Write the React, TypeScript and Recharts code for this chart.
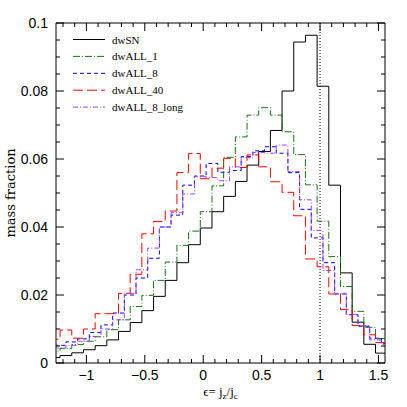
import React from "react";
import {
  LineChart,
  Line,
  XAxis,
  YAxis,
  Legend,
  ReferenceLine,
  ReferenceArea,
} from "recharts";

// bin centres: dwSN / dwALL_1 / dwALL_40 share one grid, the dwALL_8 runs are offset by half a bin
const binsA = [
  -1.275, -1.175, -1.075, -0.975, -0.875, -0.775, -0.675, -0.575, -0.475, -0.375,
  -0.275, -0.175, -0.075, 0.025, 0.125, 0.225, 0.325, 0.425, 0.525, 0.625,
  0.725, 0.825, 0.925, 1.025, 1.125, 1.225, 1.325, 1.425, 1.525,
];
const binsB = [
  -1.225, -1.125, -1.025, -0.925, -0.825, -0.725, -0.625, -0.525, -0.425, -0.325,
  -0.225, -0.125, -0.025, 0.075, 0.175, 0.275, 0.375, 0.475, 0.575, 0.675,
  0.775, 0.875, 0.975, 1.075, 1.175, 1.275, 1.375, 1.475, 1.575,
];

const dwSN = [
  0.0016, 0.0022, 0.003, 0.0039, 0.0051, 0.0068, 0.0093, 0.0119, 0.0154, 0.0196,
  0.0243, 0.0295, 0.0348, 0.0397, 0.0445, 0.049, 0.0534, 0.0582, 0.0622, 0.0684,
  0.08, 0.0944, 0.0964, 0.0814, 0.0523, 0.0265, 0.012, 0.0055, 0.0029,
];
const dwALL1 = [
  0.0035, 0.0043, 0.0054, 0.0064, 0.0077, 0.0098, 0.0127, 0.0166, 0.0199, 0.0243,
  0.0297, 0.0346, 0.0388, 0.0445, 0.0521, 0.0605, 0.0665, 0.0729, 0.0751, 0.0729,
  0.068, 0.0613, 0.0524, 0.0417, 0.0313, 0.0225, 0.0152, 0.0105, 0.0072,
];
const dwALL40 = [
  0.007, 0.0097, 0.0073, 0.01, 0.0145, 0.0145, 0.0205, 0.0261, 0.038, 0.0416,
  0.0447, 0.056, 0.0616, 0.0542, 0.0573, 0.0602, 0.0575, 0.0612, 0.0577, 0.0533,
  0.0502, 0.0433, 0.0306, 0.0283, 0.0203, 0.0157, 0.011, 0.0083, 0.006,
];
const dwALL8 = [
  0.0052, 0.0062, 0.0071, 0.009, 0.0112, 0.0147, 0.02, 0.025, 0.0308, 0.04,
  0.0435, 0.0523, 0.055, 0.0587, 0.0561, 0.0566, 0.0607, 0.0624, 0.0636, 0.0617,
  0.056, 0.0452, 0.0368, 0.0295, 0.0203, 0.0142, 0.0108, 0.0073, 0.0057,
];
const dwALL8long = [
  0.0044, 0.0052, 0.0064, 0.0078, 0.01, 0.0127, 0.0205, 0.0274, 0.0338, 0.04,
  0.0442, 0.0497, 0.0548, 0.0545, 0.0536, 0.0577, 0.0604, 0.0619, 0.0617, 0.0641,
  0.0563, 0.048, 0.039, 0.0272, 0.0205, 0.0143, 0.011, 0.0068, 0.0055,
];

const xMajor = [-1, -0.5, 0, 0.5, 1, 1.5];
const xLabels = ["\u22121", "\u22120.5", "0", "0.5", "1", "1.5"];
const xTicks = [
  -1.2, -1.1, -1, -0.9, -0.8, -0.7, -0.6, -0.5, -0.4, -0.3, -0.2, -0.1, 0, 0.1,
  0.2, 0.3, 0.4, 0.5, 0.6, 0.7, 0.8, 0.9, 1, 1.1, 1.2, 1.3, 1.4, 1.5,
];
const yMajor = [0, 0.02, 0.04, 0.06, 0.08, 0.1];
const yLabels = ["0", "0.02", "0.04", "0.06", "0.08", "0.1"];
const yTicks = [
  0, 0.005, 0.01, 0.015, 0.02, 0.025, 0.03, 0.035, 0.04, 0.045, 0.05, 0.055,
  0.06, 0.065, 0.07, 0.075, 0.08, 0.085, 0.09, 0.095, 0.1,
];

const series = [
  { name: "dwSN", bins: binsA, values: dwSN, color: "#000000", dash: undefined },
  { name: "dwALL_1", bins: binsA, values: dwALL1, color: "#137313", dash: "7 2 1 2" },
  { name: "dwALL_8", bins: binsB, values: dwALL8, color: "#0000ff", dash: "4 3" },
  { name: "dwALL_40", bins: binsA, values: dwALL40, color: "#ff0000", dash: "10 4" },
  { name: "dwALL_8_long", bins: binsB, values: dwALL8long, color: "#a040f0", dash: "5 2 1 2" },
];

const TOP = 23;
const BOTTOM = 363;
const LEFT = 56;
const RIGHT = 385;
const TICK_FONT = "'Liberation Sans', Arial, sans-serif";
const SERIF = "'Liberation Serif', 'Times New Roman', serif";

// histogram -> step points on the bin edges
const toSteps = (bins: number[], values: number[]) => {
  const pts = bins.map((c, i) => ({ x: c - 0.05, y: values[i] }));
  pts.push({ x: bins[bins.length - 1] + 0.05, y: values[values.length - 1] });
  return pts;
};

const findMajor = (list: number[], v: number) =>
  list.findIndex((m) => Math.abs(m - v) < 1e-6);

const XTick = (props: any) => {
  const { x, payload } = props;
  const idx = findMajor(xMajor, payload.value);
  const len = idx >= 0 ? 8 : 4;
  return (
    <g>
      <line x1={x} x2={x} y1={BOTTOM} y2={BOTTOM - len} stroke="#000" />
      <line x1={x} x2={x} y1={TOP} y2={TOP + len} stroke="#000" />
      {idx >= 0 && (
        <text x={x} y={380} textAnchor="middle" fontFamily={TICK_FONT} fontSize={14} fill="#000">
          {xLabels[idx]}
        </text>
      )}
    </g>
  );
};

const YTick = (props: any) => {
  const { y, payload } = props;
  const idx = findMajor(yMajor, payload.value);
  const len = idx >= 0 ? 8 : 4;
  return (
    <g>
      <line x1={LEFT} x2={LEFT + len} y1={y} y2={y} stroke="#000" />
      <line x1={RIGHT} x2={RIGHT - len} y1={y} y2={y} stroke="#000" />
      {idx >= 0 && (
        <text x={48} y={y + 5} textAnchor="end" fontFamily={TICK_FONT} fontSize={14} fill="#000">
          {yLabels[idx]}
        </text>
      )}
    </g>
  );
};

const XTitle = () => (
  <text x={220.5} y={396} textAnchor="middle" fontFamily={SERIF} fontSize={13} fill="#000">
    {"\u03f5= j"}
    <tspan dy={3} fontSize={9}>z</tspan>
    <tspan dy={-3}>/j</tspan>
    <tspan dy={3} fontSize={9}>c</tspan>
  </text>
);

const YTitle = () => (
  <text
    x={15}
    y={193}
    transform="rotate(-90, 15, 193)"
    textAnchor="middle"
    fontFamily="'DejaVu Serif', serif"
    fontSize={13}
    fill="#000"
  >
    mass fraction
  </text>
);

const LegendBox = () => (
  <svg width={140} height={90}>
    {series.map((s, i) => {
      const y = 9.5 + i * 16.9;
      return (
        <g key={s.name}>
          <line x1={0} x2={32} y1={y} y2={y} stroke={s.color} strokeDasharray={s.dash} />
          <text x={39} y={y + 4} fontFamily={SERIF} fontSize={11} fill="#000">
            {s.name}
          </text>
        </g>
      );
    })}
  </svg>
);

const App = () => {
  return (
    <div style={{ position: "absolute", left: 0, top: 0, background: "#fff" }}>
      <LineChart width={407} height={407} margin={{ top: 23, right: 22, bottom: 14, left: 6 }}>
        <XAxis
          type="number"
          dataKey="x"
          domain={[-1.26, 1.556]}
          allowDataOverflow
          ticks={xTicks}
          interval={0}
          tick={<XTick />}
          tickLine={false}
          axisLine={false}
          height={30}
          label={<XTitle />}
        />
        <YAxis
          type="number"
          domain={[0, 0.1]}
          allowDataOverflow
          ticks={yTicks}
          interval={0}
          tick={<YTick />}
          tickLine={false}
          axisLine={false}
          width={50}
          label={<YTitle />}
        />
        <ReferenceArea x1={-1.26} x2={1.556} y1={0} y2={0.1} fill="none" stroke="#000" strokeWidth={1} />
        <ReferenceLine x={1} stroke="#000" strokeDasharray="1 2" />
        {series.map((s) => (
          <Line
            key={s.name}
            name={s.name}
            data={toSteps(s.bins, s.values)}
            dataKey="y"
            type="stepAfter"
            stroke={s.color}
            strokeWidth={1}
            strokeDasharray={s.dash}
            dot={false}
            activeDot={false}
            isAnimationActive={false}
          />
        ))}
        <Legend
          layout="vertical"
          align="center"
          verticalAlign="middle"
          wrapperStyle={{ left: 73, top: 30, width: 140, height: 90 }}
          content={<LegendBox />}
        />
      </LineChart>
    </div>
  );
};

export default App;
